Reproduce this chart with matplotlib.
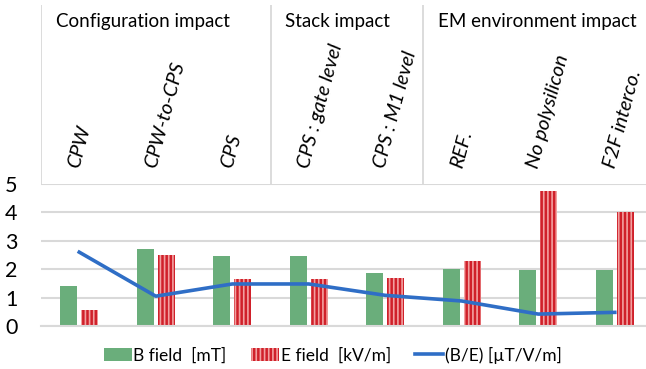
import matplotlib.pyplot as plt
import numpy as np

# Data
categories = ["CPW", "CPW-to-CPS", "CPS", "CPS : gate level", "CPS : M1 level",
              "REF.", "No polysilicon", "F2F interco."]
groups = ["Configuration impact", "Stack impact", "EM environment impact"]
group_start = [0, 3, 5]
b_field = [1.4, 2.7, 2.45, 2.45, 1.85, 2.0, 1.97, 1.97]
e_field = [0.55, 2.5, 1.65, 1.65, 1.7, 2.3, 4.75, 4.0]
ratio = [2.6, 1.05, 1.48, 1.48, 1.08, 0.88, 0.42, 0.48]

plt.rcParams["font.family"] = ["Lato", "DejaVu Sans"]
plt.rcParams["hatch.linewidth"] = 1.2

GREEN = "#6aae7b"
RED = "#d0202a"
BLUE = "#2f6ec6"
GRID = "#d9d9d9"

fig = plt.figure(figsize=(6.46, 3.69), dpi=100)
left, right = 41 / 646, 653 / 646
bottom, top = 43 / 369, 185 / 369
ax = fig.add_axes([left, bottom, right - left, top - bottom])

x = np.arange(len(categories))
w = 0.22
h_b = ax.bar(x - 0.137, b_field, w, color=GREEN, label="B field  [mT]", zorder=2)
h_e = ax.bar(x + 0.137, e_field, w, color=RED, edgecolor="#f2a0a0", hatch="||||",
             linewidth=0, label="E field  [kV/m]", zorder=2)
h_r, = ax.plot(x, ratio, color=BLUE, lw=2.6, label="(B/E) [µT/V/m]", zorder=3)

ax.set_xlim(-0.5, len(categories) - 0.5)
ax.set_ylim(0, 5)
ax.set_yticks(range(6))
ax.set_xticks([])
ax.yaxis.grid(True, color=GRID, lw=1.5, zorder=0)
for s in ["left", "right", "top"]:
    ax.spines[s].set_visible(False)
ax.spines["bottom"].set_color(GRID)
ax.spines["bottom"].set_linewidth(1.5)
ax.tick_params(axis="y", length=0, labelsize=15.5, pad=17)

# header table above the plot
hx = fig.add_axes([left, top, right - left, 364 / 369 - top])
hx.set_xlim(-0.5, len(categories) - 0.5)
hx.set_ylim(0, 1)
hx.axis("off")
for g in group_start:
    hx.axvline(g - 0.5, color=GRID, lw=1.3)
for name, g in zip(groups, group_start):
    hx.text(g - 0.5 + 0.19, 0.91, name, fontsize=13.5, ha="left", va="center")
for i, c in enumerate(categories):
    hx.text(i - 0.07, 0.09, c, fontsize=14.5, style="italic", rotation=75,
            rotation_mode="anchor", ha="left", va="center")

fig.legend([h_b, h_e, h_r], [h.get_label() for h in [h_b, h_e, h_r]],
           loc="center", bbox_to_anchor=(0.515, 14 / 369), ncol=3,
           frameon=False, fontsize=12.5, handlelength=1.6, handletextpad=0.1,
           columnspacing=1.4)

fig.savefig("out.png", dpi=100)
